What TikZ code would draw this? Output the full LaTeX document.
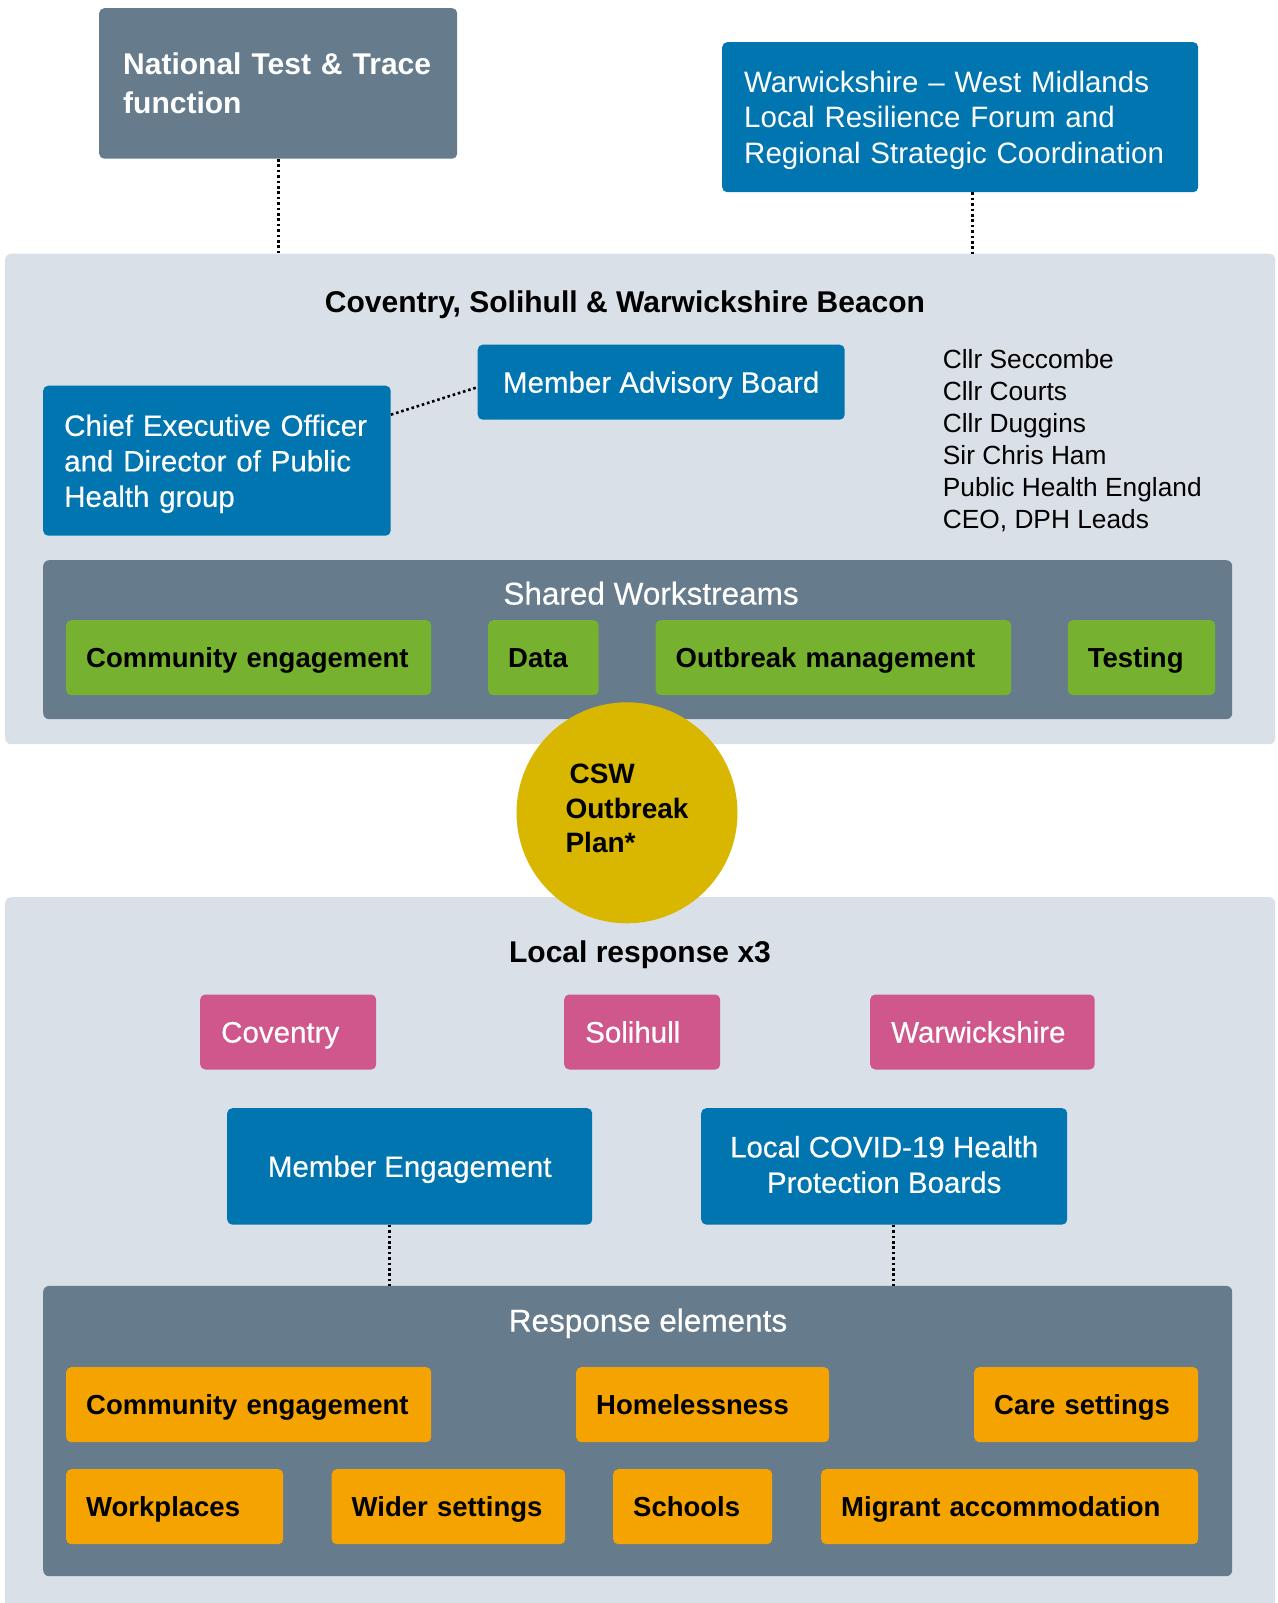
\documentclass[tikz,border=0pt]{standalone}
\usepackage{fontspec}
\setmainfont{Liberation Sans}
\newfontfamily\medfont{Liberation Sans}[FakeBold=0.4]
\usepackage{xcolor}
\definecolor{paneltint}{HTML}{D9E0E8}
\definecolor{slate}{HTML}{667C8C}
\definecolor{csblue}{HTML}{0075B0}
\definecolor{csgreen}{HTML}{76B12F}
\definecolor{cspink}{HTML}{D0578B}
\definecolor{csorange}{HTML}{F5A300}
\definecolor{csgold}{HTML}{D9B700}
\newcommand\headfont{\fontsize{30}{36}\selectfont}
\newcommand\boxfont{\fontsize{29.5}{35.5}\selectfont}
\newcommand\titlefont{\fontsize{31.5}{38}\selectfont}
\newcommand\tilefont{\fontsize{27.5}{33}\selectfont}
\newcommand\namefont{\fontsize{26.3}{31.9}\selectfont}
\newcommand\planfont{\fontsize{28}{34.5}\selectfont}

\begin{document}
\begin{tikzpicture}[x=1pt,y=-1pt,
            panel/.style={anchor=north west,inner sep=0pt,rounded corners=6pt},
            tile/.style={anchor=north west,rounded corners=5pt,inner ysep=0pt,minimum height=75pt},
            oneline/.style={text height=20pt,text depth=0pt},
            worktile/.style={tile,oneline,fill=csgreen,inner xsep=20pt,align=left,font=\bfseries\tilefont},
            resptile/.style={tile,oneline,fill=csorange,inner xsep=20pt,align=left,font=\bfseries\tilefont},
            placetile/.style={tile,oneline,fill=cspink,text=white,inner xsep=21pt,align=left,font=\medfont\boxfont,text height=21pt},
            bluetile/.style={tile,fill=csblue,text=white,font=\medfont\boxfont},
            heading/.style={inner sep=0pt,text height=21.5pt,text depth=0pt},
            dotlink/.style={line width=2.6pt,dash pattern=on 2.6pt off 2.8pt}]
            \useasboundingbox (0,0) rectangle (1277,1603);
            \clip (0,0) rectangle (1277,1603);
            \fill[white] (0,0) rectangle (1277,1603);

            \node[panel,fill=paneltint,minimum width=1270pt,minimum height=490.5pt] (beacon) at (5,253.5) {};
            \node[panel,fill=paneltint,minimum width=1270pt,minimum height=730pt] (local) at (5,897) {};
            \node[panel,fill=slate,minimum width=1189pt,minimum height=159pt] (shared) at (43,560) {};
            \node[panel,fill=slate,minimum width=1189pt,minimum height=290.3pt] (elements) at (43,1285.7) {};

            \node[tile,fill=slate,text=white,font=\bfseries\fontsize{30}{39}\selectfont,inner xsep=24pt,text width=310pt,
                minimum height=150.5pt,align=left,text depth=39pt] (national) at (99,8) {National Test \& Trace\\function};
            \node[tile,fill=csblue,text=white,font=\boxfont,inner xsep=22pt,text width=432pt,
                minimum height=150pt,align=left,text depth=71pt] (lrf) at (722,42) {Warwickshire -- West Midlands\\Local Resilience Forum and\\Regional Strategic Coordination};

            \node[heading,font=\bfseries\headfont] (beacontitle) at (625,301.3) {Coventry, Solihull \& Warwickshire Beacon};
            \node[bluetile,oneline,text height=21pt,minimum width=367pt] (advisory) at (477.5,344.5) {Member Advisory Board};
            \node[bluetile,inner xsep=21pt,text width=305.5pt,minimum height=150pt,align=left,text depth=71pt] (ceo) at (43,385.5) {Chief Executive Officer\\and Director of Public\\Health group};
            \node[anchor=north west,inner sep=0pt,align=left,font=\namefont] (members) at (942.7,349.5) {Cllr Seccombe\\Cllr Courts\\Cllr Duggins\\Sir Chris Ham\\Public Health England\\CEO, DPH Leads};

            \node[heading,text=white,font=\medfont\titlefont,text height=22.5pt] (sharedtitle) at (651,593.3) {Shared Workstreams};
            \node[worktile,text width=325pt] (wscommunity) at (66,620) {Community engagement};
            \node[worktile,text width=70.5pt] (wsdata) at (488,620) {Data};
            \node[worktile,text width=315.5pt] (wsoutbreak) at (655.5,620) {Outbreak management};
            \node[worktile,text width=107.4pt] (wstesting) at (1067.6,620) {Testing};

            \node[heading,font=\bfseries\headfont] (localtitle) at (640,951.5) {Local response x3};
            \node[placetile,text width=134pt] (coventry) at (200,994.3) {Coventry};
            \node[placetile,text width=114pt] (solihull) at (564,994.3) {Solihull};
            \node[placetile,text width=182.5pt] (warwickshire) at (870,994.3) {Warwickshire};
            \node[bluetile,oneline,text height=21pt,minimum width=365pt,minimum height=116.4pt] (engagement) at (227,1108) {Member Engagement};
            \node[bluetile,minimum width=366pt,minimum height=116.4pt,align=center,text depth=4pt] (hpb) at (701,1108) {Local COVID-19 Health\\Protection Boards};

            \node[heading,text=white,font=\medfont\titlefont,text height=22.5pt] (elementstitle) at (648,1320.3) {Response elements};
            \node[resptile,text width=325pt] (recommunity) at (66,1367) {Community engagement};
            \node[resptile,text width=213pt] (homeless) at (576,1367) {Homelessness};
            \node[resptile,text width=184pt] (care) at (974,1367) {Care settings};
            \node[resptile,text width=177pt] (workplaces) at (66,1469) {Workplaces};
            \node[resptile,text width=193.5pt] (wider) at (331.5,1469) {Wider settings};
            \node[resptile,text width=119pt] (schools) at (613,1469) {Schools};
            \node[resptile,text width=337pt] (migrant) at (821,1469) {Migrant accommodation};

            \node[circle,fill=csgold,minimum size=221pt,inner sep=0pt,align=left,font=\bfseries\planfont,
                text depth=8.6pt] (plan) at (627,812.8) {\hspace*{4pt}CSW\\Outbreak\hspace*{8pt}\\Plan*};

            \draw[dotlink] (national.south) -- (national.south |- beacon.north);
            \coordinate (lrfdrop) at ([xshift=12pt]lrf.south);
            \draw[dotlink] (lrfdrop) -- (lrfdrop |- beacon.north);
            \draw[dotlink] ([yshift=46pt]ceo.east) -- ([yshift=-5pt]advisory.west);
            \coordinate (engdrop) at ([xshift=-20.5pt]engagement.south);
            \draw[dotlink] (engdrop) -- (engdrop |- elements.north);
            \coordinate (hpbdrop) at ([xshift=9pt]hpb.south);
            \draw[dotlink] (hpbdrop) -- (hpbdrop |- elements.north);
        \end{tikzpicture}
\end{document}
